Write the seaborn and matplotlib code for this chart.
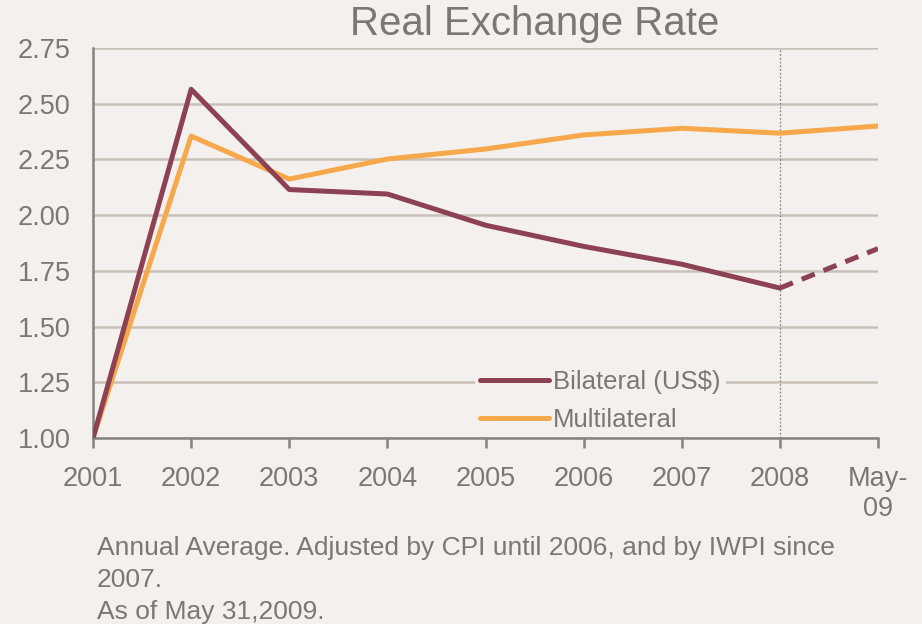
import pandas as pd
import seaborn as sns
import matplotlib.pyplot as plt

# ===============================
# 1. DATA
# ===============================
periods = ["2001", "2002", "2003", "2004", "2005", "2006", "2007", "2008", "May-\n09"]
bilateral = [1.00, 2.565, 2.115, 2.095, 1.955, 1.86, 1.78, 1.673, 1.85]
multilateral = [1.00, 2.355, 2.162, 2.252, 2.297, 2.36, 2.39, 2.368, 2.40]
y_ticks = [1.00, 1.25, 1.50, 1.75, 2.00, 2.25, 2.50, 2.75]
footnote = ["Annual Average. Adjusted by CPI until 2006, and by IWPI since",
            "2007.",
            "As of May 31,2009."]

df = pd.DataFrame({
    "x": list(range(len(periods))),
    "Bilateral (US$)": bilateral,
    "Multilateral": multilateral,
})
solid_bil = df.iloc[:8]
dash_bil = df.iloc[7:]

# ===============================
# 2. STYLE
# ===============================
BG = "#f3f0ed"
GRID = "#c9c1b9"
TEXT = "#7b7773"
MAROON = "#8c4253"
ORANGE = "#f7a84b"

sns.set_theme(style="white")
plt.rcParams["font.family"] = ["Liberation Sans", "DejaVu Sans"]

fig = plt.figure(figsize=(9.22, 6.24), dpi=100, facecolor=BG)
ax = fig.add_axes([0.1009, 0.298, 0.8514, 0.625])
ax.set_facecolor(BG)

# ===============================
# 3. LINES
# ===============================
sns.lineplot(data=solid_bil, x="x", y="Bilateral (US$)", color=MAROON,
             linewidth=3.6, ax=ax, label="Bilateral (US$)", zorder=4)
sns.lineplot(data=dash_bil, x="x", y="Bilateral (US$)", color=MAROON,
             linewidth=3.6, ax=ax, linestyle=(0, (2.8, 1.9)), zorder=4)
sns.lineplot(data=df, x="x", y="Multilateral", color=ORANGE,
             linewidth=3.6, ax=ax, label="Multilateral", zorder=3)

ax.axvline(7, color="#8a8680", linewidth=0.9, linestyle=(0, (1.5, 1.5)), zorder=2)

# ===============================
# 4. AXES
# ===============================
ax.set_xlim(0, len(periods) - 1)
ax.set_ylim(1.0, 2.75)
ax.set_yticks(y_ticks)
ax.set_yticklabels([f"{v:.2f}" for v in y_ticks])
ax.set_xticks(range(len(periods)))
ax.set_xticklabels(periods)
ax.yaxis.grid(True, color=GRID, linewidth=1.8)
ax.set_axisbelow(True)
for s in ["top", "right"]:
    ax.spines[s].set_visible(False)
for s in ["left", "bottom"]:
    ax.spines[s].set_color("#858280")
    ax.spines[s].set_linewidth(1.8)
ax.tick_params(axis="x", length=7, width=1.8, color="#858280", direction="out",
               pad=13, labelsize=19.5, labelcolor=TEXT, bottom=True)
ax.tick_params(axis="y", length=0, pad=16, labelsize=19.5, labelcolor=TEXT)
ax.set_xlabel("")
ax.set_ylabel("")

leg = ax.legend(loc="lower left", bbox_to_anchor=(0.47, -0.03), fontsize=18.5,
                frameon=True, facecolor=BG, edgecolor="none", framealpha=1,
                handlelength=2.7, handletextpad=0.15, labelspacing=0.55,
                borderpad=0.2, fancybox=False)
for t in leg.get_texts():
    t.set_color(TEXT)

fig.text(0.58, 0.962, "Real Exchange Rate", ha="center", va="center",
         fontsize=29, color=TEXT)

for i, line in enumerate(footnote):
    fig.text(0.105, 0.122 - i * 0.051, line, ha="left", va="center",
             fontsize=19, color=TEXT)

fig.savefig("out.png", dpi=100, facecolor=BG)
